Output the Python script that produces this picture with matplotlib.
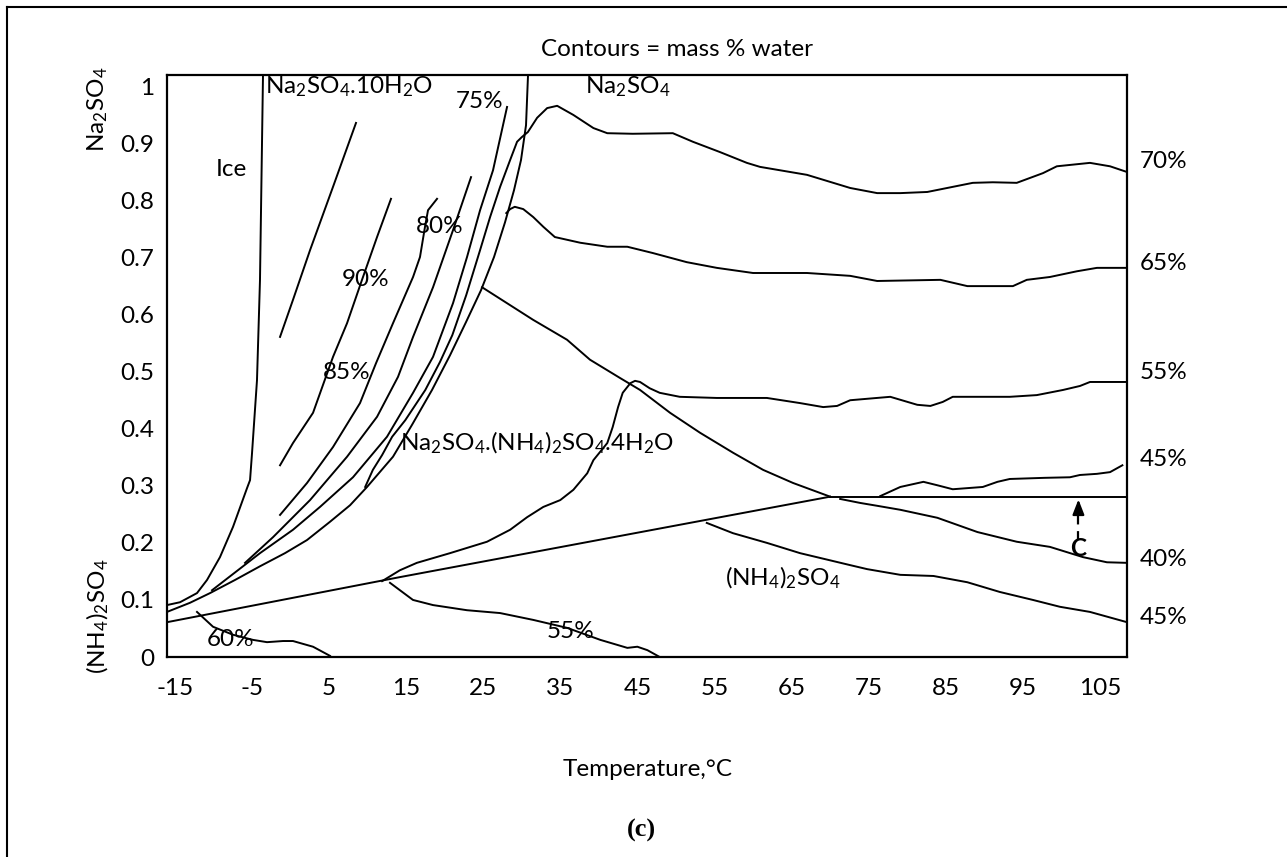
import numpy as np
import matplotlib.pyplot as plt
from matplotlib.lines import Line2D

plt.rcParams['font.family'] = ['Lato', 'DejaVu Sans']
plt.rcParams['mathtext.fontset'] = 'custom'
plt.rcParams['mathtext.rm'] = 'Lato'
plt.rcParams['mathtext.it'] = 'Lato:italic'
plt.rcParams['mathtext.bf'] = 'Lato:bold'
plt.rcParams['mathtext.default'] = 'regular'

# x = temperature (°C), y = Na2SO4 fraction of the salts
# phase boundaries
ice_t = [-3.55, -3.94, -4.33, -4.97, -5.23, -5.62, -7.44, -9.13, -10.81, -12.11, -14.31, -16.0]
ice_y = [1.02, 0.661, 0.485, 0.358, 0.310, 0.296, 0.228, 0.175, 0.135, 0.112, 0.096, 0.091]

decahydrate_t = [30.82, 30.56, 29.91, 29.0, 27.84, 26.41, 24.73, 22.78, 20.71, 18.37, 15.78, 13.31,
                 9.94, 7.74, 5.14, 2.16, -0.70, -3.94, -7.18, -10.42, -13.02, -16.0]
decahydrate_y = [1.02, 0.932, 0.871, 0.818, 0.762, 0.701, 0.643, 0.587, 0.529, 0.468, 0.407, 0.351,
                 0.298, 0.266, 0.237, 0.205, 0.182, 0.159, 0.135, 0.112, 0.095, 0.079]

double_top_t = [24.86, 31.47, 35.88, 38.86, 42.75, 45.35, 49.24, 53.13, 57.41, 61.30, 65.19, 70.0]
double_top_y = [0.648, 0.591, 0.556, 0.521, 0.489, 0.468, 0.428, 0.393, 0.358, 0.328, 0.305, 0.281]

double_low_t = [-16.0, 14.2, 70.0]
double_low_y = [0.061, 0.140, 0.281]

flat_t = [70.0, 108.5]
flat_y = [0.281, 0.281]

# water contours (mass %)
c95_t = [-1.34, 0.34, 2.55, 5.53, 8.51]
c95_y = [0.561, 0.626, 0.713, 0.824, 0.936]

c90_t = [13.05, 11.24, 9.29, 7.35, 5.53, 2.94, 0.34, -1.34]
c90_y = [0.803, 0.736, 0.661, 0.585, 0.526, 0.428, 0.375, 0.336]

c85_t = [19.02, 17.85, 17.46, 16.81, 15.91, 13.31, 11.11, 9.03, 5.53, 2.16, -1.34]
c85_y = [0.803, 0.783, 0.754, 0.701, 0.666, 0.585, 0.515, 0.445, 0.368, 0.305, 0.249]

c80_t = [23.43, 21.09, 18.50, 15.91, 13.96, 11.24, 7.35, 2.55, -2.25, -5.88]
c80_y = [0.841, 0.748, 0.648, 0.561, 0.491, 0.421, 0.351, 0.275, 0.210, 0.165]

c75_t = [28.10, 26.28, 24.60, 22.91, 21.09, 18.50, 15.91, 12.53, 8.12, 3.84, 0.34, -3.94, -10.16]
c75_y = [0.964, 0.853, 0.783, 0.701, 0.620, 0.526, 0.463, 0.386, 0.315, 0.263, 0.223, 0.182, 0.117]

c70_t = [108.5, 106.3, 103.7, 99.4, 97.6, 94.2, 91.1, 88.5, 82.6, 79.1, 76.1, 72.6, 67.0, 60.9,
         59.2, 55.7, 52.2, 49.6, 44.4, 41.1, 39.3, 36.7, 34.6, 33.3, 32.0, 30.8, 30.0, 29.4,
         28.5, 27.2, 25.9, 24.6, 22.8, 21.0, 19.4, 17.5, 14.9, 13.2, 11.9, 10.7, 9.7]
c70_y = [0.850, 0.860, 0.866, 0.860, 0.848, 0.831, 0.832, 0.831, 0.815, 0.813, 0.813, 0.822, 0.845,
         0.859, 0.866, 0.885, 0.903, 0.918, 0.917, 0.918, 0.927, 0.950, 0.966, 0.962, 0.945, 0.920,
         0.911, 0.903, 0.871, 0.824, 0.771, 0.713, 0.634, 0.564, 0.517, 0.468, 0.415, 0.386, 0.354,
         0.328, 0.298]

c65_t = [108.5, 104.6, 102.0, 98.5, 95.5, 93.7, 87.8, 84.3, 76.1, 72.6, 67.0, 60.0, 55.3, 51.4,
         47.0, 43.7, 41.1, 37.6, 34.3, 32.8, 31.5, 30.2, 29.1, 28.5, 28.0]
c65_y = [0.682, 0.682, 0.676, 0.666, 0.661, 0.650, 0.650, 0.661, 0.659, 0.668, 0.673, 0.673, 0.682,
         0.692, 0.708, 0.719, 0.719, 0.726, 0.736, 0.754, 0.771, 0.785, 0.789, 0.785, 0.778]

c55_t = [108.5, 103.7, 102.4, 100.2, 96.8, 93.3, 85.9, 84.6, 83.0, 81.3, 77.8, 72.6, 70.9, 69.1,
         66.1, 61.8, 55.3, 50.5, 47.9, 46.6, 45.35, 44.7, 44.1, 43.1, 42.5, 41.8, 41.1, 39.3,
         38.5, 36.7, 35.0, 32.8, 30.7, 28.5, 25.5, 20.7, 16.4, 14.2, 11.9]
c55_y = [0.482, 0.482, 0.475, 0.468, 0.459, 0.456, 0.456, 0.447, 0.440, 0.442, 0.456, 0.450, 0.440,
         0.438, 0.445, 0.454, 0.454, 0.456, 0.463, 0.471, 0.482, 0.484, 0.480, 0.463, 0.438, 0.403,
         0.375, 0.345, 0.322, 0.293, 0.275, 0.263, 0.245, 0.223, 0.202, 0.182, 0.165, 0.152, 0.133]

c55b_t = [12.92, 15.9, 18.5, 22.9, 27.2, 31.5, 35.9, 40.2, 43.7, 45.0, 46.3, 47.9]
c55b_y = [0.130, 0.100, 0.091, 0.082, 0.077, 0.065, 0.051, 0.030, 0.016, 0.018, 0.012, 0.0]

c60_t = [-12.11, -10.03, -7.44, -4.85, -3.03, -0.95, 0.34, 2.94, 5.14]
c60_y = [0.079, 0.053, 0.039, 0.030, 0.026, 0.028, 0.028, 0.018, 0.002]

c45_t = [107.9, 106.3, 104.6, 102.4, 101.1, 97.8, 93.3, 91.7, 89.8, 85.9, 83.9, 82.1, 79.1, 76.5]
c45_y = [0.336, 0.324, 0.321, 0.319, 0.315, 0.314, 0.312, 0.307, 0.298, 0.294, 0.301, 0.307, 0.298, 0.282]

c40_t = [71.3, 73.9, 76.1, 79.1, 83.9, 89.1, 94.2, 98.5, 102.8, 105.9, 108.5]
c40_y = [0.277, 0.270, 0.265, 0.258, 0.244, 0.219, 0.202, 0.193, 0.175, 0.166, 0.165]

c45b_t = [54.0, 57.4, 61.8, 66.1, 72.6, 74.8, 79.1, 83.4, 87.8, 92.0, 96.3, 99.8, 103.7, 108.5]
c45b_y = [0.235, 0.217, 0.200, 0.182, 0.161, 0.154, 0.144, 0.142, 0.131, 0.114, 0.100, 0.088, 0.079, 0.061]

# labels on the right edge
right_labels = ['70%', '65%', '55%', '45%', '40%', '45%']
right_y = [0.868, 0.690, 0.498, 0.347, 0.170, 0.070]

x_ticks = [-15, -5, 5, 15, 25, 35, 45, 55, 65, 75, 85, 95, 105]
y_ticks = [0, 0.1, 0.2, 0.3, 0.4, 0.5, 0.6, 0.7, 0.8, 0.9, 1]
y_tick_labels = ['0', '0.1', '0.2', '0.3', '0.4', '0.5', '0.6', '0.7', '0.8', '0.9', '1']

W, H = 1287, 857
fig = plt.figure(figsize=(W / 100, H / 100), dpi=100)
ax = fig.add_axes([167 / W, 1 - 657 / H, 960 / W, 582 / H])
ax.set_xlim(-16, 108.5)
ax.set_ylim(0, 1.02)

curves = [(ice_t, ice_y), (decahydrate_t, decahydrate_y), (double_top_t, double_top_y),
          (double_low_t, double_low_y), (flat_t, flat_y), (c95_t, c95_y), (c90_t, c90_y),
          (c85_t, c85_y), (c80_t, c80_y), (c75_t, c75_y), (c70_t, c70_y), (c65_t, c65_y),
          (c55_t, c55_y), (c55b_t, c55b_y), (c60_t, c60_y), (c45_t, c45_y), (c40_t, c40_y),
          (c45b_t, c45b_y)]
for t, y in curves:
    ax.plot(t, y, color='black', lw=1.4, solid_joinstyle='round')

fs = 17.5
ax.text(-7.6, 0.855, 'Ice', fontsize=fs, ha='center', va='center')
ax.text(-3.3, 0.999, 'Na$_2$SO$_4$.10H$_2$O', fontsize=fs, ha='left', va='center')
ax.text(24.5, 0.973, '75%', fontsize=fs, ha='center', va='center')
ax.text(43.7, 0.999, 'Na$_2$SO$_4$', fontsize=fs, ha='center', va='center')
ax.text(19.4, 0.755, '80%', fontsize=fs, ha='center', va='center')
ax.text(9.7, 0.662, '90%', fontsize=fs, ha='center', va='center')
ax.text(7.35, 0.498, '85%', fontsize=fs, ha='center', va='center')
ax.text(14.2, 0.375, 'Na$_2$SO$_4$.(NH$_4$)$_2$SO$_4$.4H$_2$O', fontsize=fs, ha='left', va='center')
ax.text(63.8, 0.138, '(NH$_4$)$_2$SO$_4$', fontsize=fs, ha='center', va='center')
ax.text(36.3, 0.044, '55%', fontsize=fs, ha='center', va='center')
ax.text(-7.8, 0.030, '60%', fontsize=fs, ha='center', va='center')

for lab, y in zip(right_labels, right_y):
    ax.text(110.2, y, lab, fontsize=fs, ha='left', va='center', clip_on=False)

# arrow C
ax.plot([102.2, 102.2], [0.205, 0.252], color='black', lw=1.6, ls=(0, (4, 3)))
ax.annotate('', xy=(102.2, 0.281), xytext=(102.2, 0.250),
            arrowprops=dict(arrowstyle='-|>,head_length=0.9,head_width=0.35', color='black', lw=1.6))
ax.text(102.2, 0.191, 'C', fontsize=fs, fontweight='bold', ha='center', va='center')

ax.set_xticks(x_ticks)
ax.set_xticklabels([str(v) for v in x_ticks])
ax.set_yticks(y_ticks)
ax.set_yticklabels(y_tick_labels)
ax.tick_params(length=0, labelsize=fs)
ax.tick_params(axis='x', pad=15)
ax.tick_params(axis='y', pad=9)
for s in ax.spines.values():
    s.set_linewidth(1.6)

fig.text(98 / W, 1 - 109 / H, 'Na$_2$SO$_4$', fontsize=fs, rotation=90, ha='center', va='center')
fig.text(98 / W, 1 - 616 / H, '(NH$_4$)$_2$SO$_4$', fontsize=fs, rotation=90, ha='center', va='center')
fig.text(677 / W, 1 - 50 / H, 'Contours = mass % water', fontsize=fs, ha='center', va='center')
fig.text(648 / W, 1 - 770 / H, 'Temperature,°C', fontsize=fs, ha='center', va='center')
fig.text(641 / W, 1 - 830 / H, '(c)', fontsize=19, family='Liberation Serif', fontweight='bold',
         ha='center', va='center')

# page frame (left and top only)
fig.add_artist(Line2D([7 / W, 7 / W], [0, 1 - 7 / H], transform=fig.transFigure, color='black', lw=1.5))
fig.add_artist(Line2D([7 / W, 1], [1 - 7 / H, 1 - 7 / H], transform=fig.transFigure, color='black', lw=1.5))

fig.savefig('out.png', dpi=100)
